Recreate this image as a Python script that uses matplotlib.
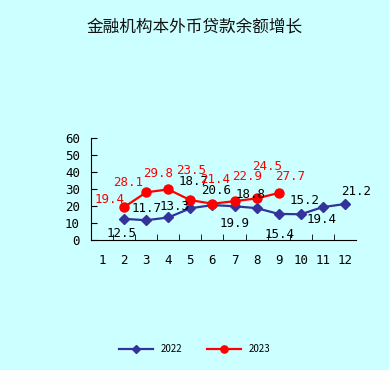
import numpy as np
import matplotlib.pyplot as plt

plt.rcParams['font.family'] = ['Noto Sans CJK SC', 'DejaVu Sans']

months = [1, 2, 3, 4, 5, 6, 7, 8, 9, 10, 11, 12]
m2022 = [2, 3, 4, 5, 6, 7, 8, 9, 10, 11, 12]
v2022 = [12.5, 11.7, 13.3, 18.7, 20.6, 19.9, 18.8, 15.4, 15.2, 19.4, 21.2]
m2023 = [2, 3, 4, 5, 6, 7, 8, 9]
v2023 = [19.4, 28.1, 29.8, 23.5, 21.4, 22.9, 24.5, 27.7]

# label offsets in pixels (dx, dy)
off2022 = [(-3, -15), (0, 12), (6, 11), (3, 27), (4, 15), (0, -17), (-6, 14), (1, -21), (4, 14), (-1, -12), (11, 13)]
off2023 = [(-15, 8), (-18, 10), (-10, 16), (1, 30), (3, 24), (13, 25), (11, 32), (11, 16)]

bg = '#CCFFFF'
blue = '#333399'
red = '#FF0000'

fig = plt.figure(figsize=(3.89, 3.70), dpi=100, facecolor=bg)
ax = fig.add_axes([0.234, 0.351, 0.681, 0.276], facecolor=bg)

ax.plot(m2022, v2022, color=blue, lw=1.6, marker='D', ms=5.5, label='2022')
ax.plot(m2023, v2023, color=red, lw=1.6, marker='o', ms=6.5, label='2023')

mono = {'family': 'DejaVu Sans Mono', 'size': 9}
for x, y, (dx, dy) in zip(m2022, v2022, off2022):
    ax.annotate(f'{y:.1f}', (x, y), xytext=(dx, dy), textcoords='offset pixels',
                ha='center', va='center', color='black', **mono)
for x, y, (dx, dy) in zip(m2023, v2023, off2023):
    ax.annotate(f'{y:.1f}', (x, y), xytext=(dx, dy), textcoords='offset pixels',
                ha='center', va='center', color=red, **mono)

ax.set_xlim(0.5, 12.5)
ax.set_ylim(0, 60)
ax.set_yticks(range(0, 61, 10))
ax.set_xticks(months)
ax.set_xticklabels([str(m) for m in months], **mono)
ax.set_yticklabels([str(v) for v in range(0, 61, 10)], **mono)
ax.tick_params(axis='x', length=0, pad=10)
ax.set_xticks(np.arange(1.5, 12.5, 1), minor=True)
ax.tick_params(axis='x', which='minor', direction='in', length=4, color='black')
ax.tick_params(axis='y', direction='in', length=4, pad=8)
for s in ['top', 'right']:
    ax.spines[s].set_visible(False)

fig.text(0.5, 0.927, '金融机构本外币贷款余额增长', ha='center', va='center', fontsize=12, color='#111111')

fig.legend(loc='center', bbox_to_anchor=(0.5, 0.057), ncol=2, frameon=False,
           fontsize=7, handlelength=3.5, columnspacing=2.5, markerscale=0.8)

fig.savefig('out.png', dpi=100, facecolor=bg)
